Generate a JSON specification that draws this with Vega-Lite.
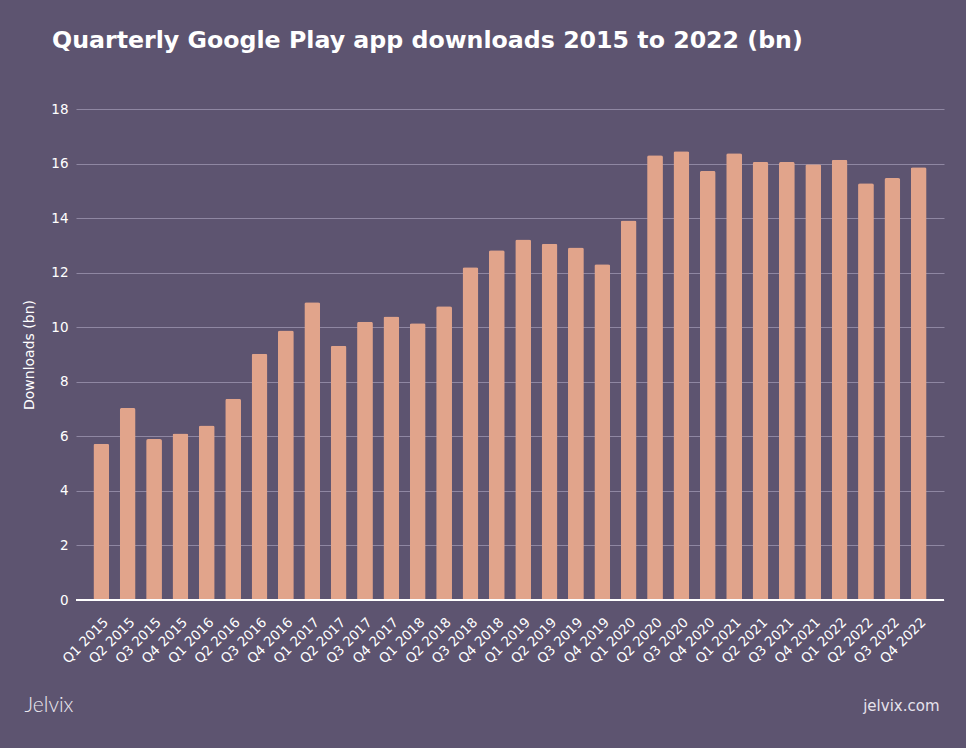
{
  "$schema": "https://vega.github.io/schema/vega-lite/v6.json",
  "width": 868,
  "height": 491,
  "autosize": {"type": "none"},
  "padding": {"left": 76, "top": 109, "right": 22, "bottom": 148},
  "background": "#5d5470",
  "title": {
    "text": "Quarterly Google Play app downloads 2015 to 2022 (bn)",
    "anchor": "start",
    "frame": "group",
    "dx": -24,
    "offset": 49,
    "font": "DejaVu Sans",
    "fontSize": 23.7,
    "fontWeight": "bold",
    "color": "#ffffff"
  },
  "config": {
    "view": {"stroke": null},
    "font": "DejaVu Sans"
  },
  "data": {
    "values": [
      {"quarter": "Q1 2015", "downloads": 5.73},
      {"quarter": "Q2 2015", "downloads": 7.04},
      {"quarter": "Q3 2015", "downloads": 5.9},
      {"quarter": "Q4 2015", "downloads": 6.1},
      {"quarter": "Q1 2016", "downloads": 6.4},
      {"quarter": "Q2 2016", "downloads": 7.38},
      {"quarter": "Q3 2016", "downloads": 9.03},
      {"quarter": "Q4 2016", "downloads": 9.88},
      {"quarter": "Q1 2017", "downloads": 10.92},
      {"quarter": "Q2 2017", "downloads": 9.32},
      {"quarter": "Q3 2017", "downloads": 10.2},
      {"quarter": "Q4 2017", "downloads": 10.39},
      {"quarter": "Q1 2018", "downloads": 10.15},
      {"quarter": "Q2 2018", "downloads": 10.77},
      {"quarter": "Q3 2018", "downloads": 12.2},
      {"quarter": "Q4 2018", "downloads": 12.82},
      {"quarter": "Q1 2019", "downloads": 13.22},
      {"quarter": "Q2 2019", "downloads": 13.06},
      {"quarter": "Q3 2019", "downloads": 12.92},
      {"quarter": "Q4 2019", "downloads": 12.31},
      {"quarter": "Q1 2020", "downloads": 13.91},
      {"quarter": "Q2 2020", "downloads": 16.3},
      {"quarter": "Q3 2020", "downloads": 16.45},
      {"quarter": "Q4 2020", "downloads": 15.73},
      {"quarter": "Q1 2021", "downloads": 16.38},
      {"quarter": "Q2 2021", "downloads": 16.06},
      {"quarter": "Q3 2021", "downloads": 16.06},
      {"quarter": "Q4 2021", "downloads": 15.97},
      {"quarter": "Q1 2022", "downloads": 16.14},
      {"quarter": "Q2 2022", "downloads": 15.28},
      {"quarter": "Q3 2022", "downloads": 15.47},
      {"quarter": "Q4 2022", "downloads": 15.86}
    ]
  },
  "layer": [
    {
      "mark": {"type": "bar", "color": "#e1a48b", "cornerRadiusTopLeft": 2, "cornerRadiusTopRight": 2},
      "encoding": {
        "x": {
          "field": "quarter",
          "type": "nominal",
          "sort": null,
          "scale": {"paddingInner": 0.4, "paddingOuter": 0.66},
          "axis": {
            "labelAngle": -45,
            "labelColor": "#ffffff",
            "labelFontSize": 13.5,
            "labelPadding": 15,
            "ticks": false,
            "domain": false,
            "grid": false,
            "title": "jelvix.com",
            "titleColor": "#e6e2ec",
            "titleFontSize": 15,
            "titleFontWeight": "normal",
            "titleX": 863,
            "titleY": 105,
            "titleAlign": "right",
            "titleBaseline": "middle",
            "titleAnchor": null
          }
        },
        "y": {
          "field": "downloads",
          "type": "quantitative",
          "scale": {"domain": [0, 18]},
          "axis": {
            "values": [0, 2, 4, 6, 8, 10, 12, 14, 16, 18],
            "labelColor": "#ffffff",
            "labelFontSize": 13.5,
            "labelPadding": 8,
            "ticks": false,
            "domain": false,
            "grid": true,
            "gridColor": "#8f87a2",
            "gridWidth": 1,
            "title": "Downloads (bn)",
            "titleColor": "#ffffff",
            "titleFontSize": 14,
            "titleFontWeight": "normal",
            "titlePadding": 14
          }
        }
      }
    },
    {
      "mark": {"type": "rule", "color": "#ffffff", "strokeWidth": 1.5},
      "encoding": {
        "y": {
          "datum": 0,
          "type": "quantitative",
          "axis": {
            "orient": "right",
            "labels": false,
            "ticks": false,
            "domain": false,
            "grid": false,
            "title": "Jelvix",
            "titleAngle": 0,
            "titleX": -920,
            "titleY": 596,
            "titleAlign": "left",
            "titleBaseline": "middle",
            "titleColor": "#ece9f0",
            "titleFontSize": 21,
            "titleFontWeight": 300,
            "titleFont": "Lato"
          }
        }
      }
    }
  ],
  "resolve": {"axis": {"y": "independent"}}
}
